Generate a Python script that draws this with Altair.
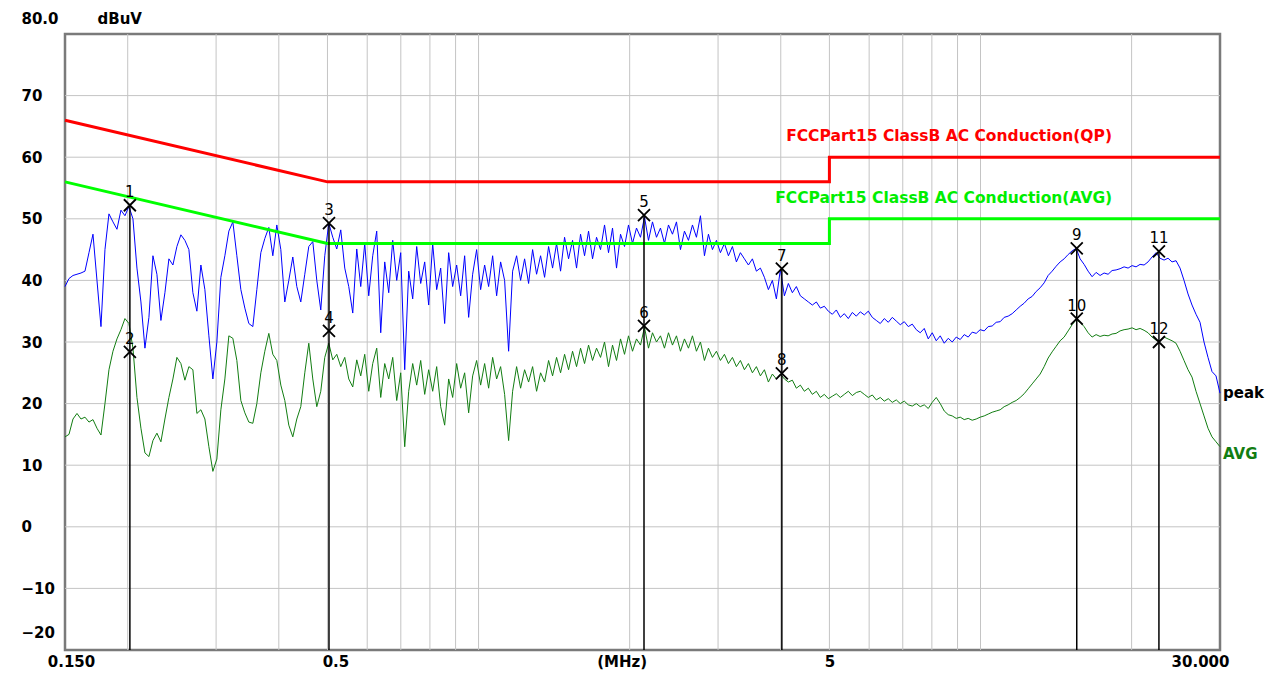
import altair as alt
import numpy as np
import pandas as pd

F_MIN, F_MAX = 0.15, 30.0
Y_MIN, Y_MAX = -20, 80

# ---- measured traces (dBuV), sampled on a log frequency sweep 0.15-30 MHz ----
peak_values = [
    39.0, 40.3, 40.8, 41.0, 41.2, 41.5, 44.5, 47.5, 40.0, 32.5,
    45.0, 50.8, 49.5, 48.3, 51.4, 50.5, 52.0, 50.0, 42.0, 36.5,
    29.0, 34.0, 44.0, 41.0, 33.5, 38.0, 43.5, 42.5, 45.5, 47.4,
    46.5, 45.0, 38.0, 35.0, 42.5, 38.5, 31.0, 24.0, 30.0, 40.5,
    44.0, 48.0, 49.5, 44.0, 38.5, 35.5, 33.0, 32.5, 38.5, 44.5,
    46.8, 48.6, 44.0, 49.0, 45.0, 36.5, 40.0, 43.8, 39.0, 36.5,
    41.0, 45.5, 46.3, 40.0, 35.2, 44.0, 49.3, 47.0, 45.1, 48.2,
    42.0, 39.0, 34.7, 45.1, 39.0, 46.0, 37.5, 44.0, 48.0, 31.5,
    43.0, 38.0, 46.5, 40.0, 44.5, 25.5, 41.5, 37.0, 45.5, 39.5,
    43.0, 36.0, 46.0, 38.5, 42.0, 33.0, 44.5, 39.0, 42.5, 37.5,
    44.0, 34.0, 41.0, 45.0, 38.5, 42.5, 39.0, 44.0, 37.5, 43.0,
    40.0, 28.5, 41.5, 44.0, 40.0, 43.5, 39.5, 45.0, 41.0, 44.0,
    40.5, 45.5, 42.0, 46.0, 41.5, 47.0, 43.5, 46.5, 42.0, 47.5,
    44.0, 48.0, 43.5, 47.0, 45.0, 49.0, 44.5, 48.5, 42.0, 47.5,
    45.5, 49.0, 46.0, 48.5, 47.0, 50.3, 46.5, 49.5, 47.0, 48.5,
    46.0, 49.0, 47.5, 49.5, 45.0, 48.0, 46.5, 49.0, 47.0, 50.5,
    44.0, 47.5, 45.0, 46.5, 44.5, 46.0, 44.0, 45.5, 43.0, 44.5,
    43.5, 42.5, 43.5, 41.5, 42.0, 40.5, 38.5, 40.0, 37.0, 41.8,
    37.5, 39.5, 38.0, 39.0, 37.5, 37.0, 36.5, 36.0, 36.5, 35.5,
    35.8, 35.0, 34.5, 35.2, 34.0, 34.6, 33.8, 34.8, 34.2, 34.9,
    34.4, 35.0, 34.0, 33.5, 33.0, 33.8, 33.2, 34.0, 33.4, 32.8,
    33.3, 32.5, 32.9, 32.0, 31.5, 32.2, 30.5, 31.5, 30.2, 31.0,
    29.8, 30.6, 30.0, 30.8, 30.4, 31.2, 30.8, 31.6, 31.4, 32.0,
    31.8, 32.5, 32.6, 33.2, 33.3, 34.0, 34.2, 34.6, 35.2, 35.8,
    36.3, 37.0, 37.4, 38.2, 38.8, 39.6, 40.8, 41.5, 42.3, 43.0,
    43.5, 44.2, 44.8, 45.2, 43.5, 42.6, 41.5, 40.6, 41.3, 40.8,
    41.2, 41.0, 41.6, 41.7, 41.9, 42.2, 42.0, 42.4, 42.2, 42.6,
    42.5, 43.0, 43.8, 44.5, 43.6, 43.3, 43.6, 43.0, 43.2, 42.0,
    40.0, 37.8, 36.0, 34.5, 33.2, 30.0, 27.5, 25.2, 24.5, 21.7,
]

avg_values = [
    14.6, 15.0, 17.5, 18.4, 17.5, 17.8, 17.0, 17.4, 16.0, 14.9,
    20.0, 25.5, 28.5, 30.5, 32.0, 33.8, 33.0, 29.0, 21.0, 16.0,
    12.0, 11.4, 14.0, 15.2, 13.8, 17.5, 21.0, 24.0, 27.5, 26.5,
    23.8, 26.0, 25.5, 18.4, 19.0, 17.5, 13.0, 9.0, 11.0, 19.0,
    24.0, 31.0, 30.6, 27.0, 20.5, 18.5, 17.0, 16.8, 20.0, 25.0,
    28.5, 31.4, 28.0, 27.0, 23.0, 20.5, 16.5, 14.6, 17.5, 19.5,
    25.0, 29.8, 24.0, 19.5, 22.0, 27.5, 29.8, 27.1, 28.0, 26.0,
    27.5, 24.0, 22.7, 27.1, 24.5, 28.0, 22.0, 26.5, 29.0, 21.0,
    26.5, 24.0, 27.5, 20.5, 25.0, 13.0, 22.0, 26.5, 23.0, 27.0,
    21.5, 25.5, 22.0, 26.0, 19.5, 16.5, 24.0, 21.0, 26.5, 22.5,
    25.0, 18.5, 24.5, 27.0, 23.0, 26.5, 22.5, 27.5, 24.0, 26.0,
    21.5, 14.0, 22.0, 26.0, 22.5, 25.5, 23.5, 26.0, 22.0, 25.0,
    23.5, 27.0, 24.5, 27.5, 25.0, 28.0, 25.5, 28.5, 26.0, 29.0,
    26.5, 29.5, 27.0, 29.0, 27.5, 30.0, 26.0, 29.5, 27.0, 30.5,
    28.0, 31.0, 28.5, 30.5, 29.5, 32.4, 29.0, 31.5, 30.0, 31.0,
    29.0, 31.5, 29.5, 31.0, 28.5, 30.5, 29.0, 31.0, 28.5, 30.0,
    27.0, 29.0, 27.5, 28.5, 27.0, 28.0, 26.5, 27.5, 26.0, 27.0,
    25.5, 26.5, 25.0, 26.0, 24.5, 25.5, 23.5, 24.8, 24.0, 24.8,
    24.0, 23.5, 23.8, 22.5, 23.0, 22.0, 22.5, 21.5, 22.0, 21.0,
    21.5, 20.8, 21.2, 21.6, 21.0, 21.5, 22.0, 21.3, 21.8, 22.0,
    21.5, 21.0, 21.4, 20.6, 21.0, 20.4, 20.8, 20.2, 20.6, 20.0,
    20.4, 19.8, 19.6, 20.0, 19.5, 19.8, 19.2, 20.2, 21.0, 20.0,
    18.8, 18.2, 18.0, 17.6, 17.8, 17.4, 17.6, 17.3, 17.5, 17.8,
    18.0, 18.3, 18.6, 18.8, 19.0, 19.5, 19.8, 20.2, 20.5, 21.0,
    21.6, 22.4, 23.2, 24.0, 24.8, 26.0, 27.4, 28.4, 29.3, 30.2,
    30.8, 31.8, 32.8, 33.6, 33.2, 32.5, 31.5, 30.8, 31.2, 30.9,
    31.1, 31.0, 31.3, 31.4, 31.8, 32.0, 32.1, 32.3, 32.0, 32.2,
    31.9, 31.5, 30.8, 30.3, 30.2, 30.8, 30.5, 30.2, 29.8, 28.5,
    27.0, 25.5, 24.3, 22.0, 20.0, 18.0, 16.0, 14.6, 13.8, 13.0,
]

# ---- limit lines (FCC Part 15 Class B conducted) ----
limit_freqs = [0.15, 0.5, 5.0, 5.0, 30.0]
qp_limit = [66, 56, 56, 60, 60]
avg_limit = [56, 46, 46, 50, 50]
qp_label = "FCCPart15 ClassB AC Conduction(QP)"
avg_label = "FCCPart15 ClassB AC Conduction(AVG)"
label_freqs = [4.10, 3.90]
label_levels = [63.4, 53.4]

# ---- markers ----
marker_ids = ["1", "2", "3", "4", "5", "6", "7", "8", "9", "10", "11", "12"]
marker_freqs = [0.202, 0.202, 0.5035, 0.5035, 2.136, 2.136, 4.02, 4.02, 15.55, 15.55, 22.67, 22.67]
marker_levels = [52.2, 28.4, 49.3, 31.8, 50.6, 32.6, 41.9, 24.9, 45.2, 33.8, 44.7, 30.0]

# ---- axes / grid ----
grid_freqs = [0.2, 0.3, 0.4, 0.5, 0.6, 0.7, 0.8, 0.9, 1, 2, 3, 4, 5, 6, 7, 8, 9, 10, 20]
grid_levels = [-10, 0, 10, 20, 30, 40, 50, 60, 70]
x_tick_values = [0.15, 0.5, 2, 5, 30]
x_tick_labels = ["0.150", "0.5", "(MHz)", "5", "30.000"]
y_tick_values = [-20, -10, 0, 10, 20, 30, 40, 50, 60, 70, 80]
y_unit = "dBuV"

# ---------------------------------------------------------------
peak_df = pd.DataFrame({"f": np.geomspace(F_MIN, F_MAX, len(peak_values)), "v": peak_values})
avg_df = pd.DataFrame({"f": np.geomspace(F_MIN, F_MAX, len(avg_values)), "v": avg_values})
qp_df = pd.DataFrame({"f": limit_freqs, "v": qp_limit, "o": range(len(limit_freqs))})
al_df = pd.DataFrame({"f": limit_freqs, "v": avg_limit, "o": range(len(limit_freqs))})
mk_df = pd.DataFrame({"f": marker_freqs, "v": marker_levels, "t": marker_ids})
rule_df = (mk_df.groupby("f", as_index=False)["v"].max().rename(columns={"v": "v2"}))
rule_df["v"] = Y_MIN
gx_df = pd.DataFrame({"f": grid_freqs})
gy_df = pd.DataFrame({"v": grid_levels})
lim_lab_df = pd.DataFrame({"f": label_freqs, "v": label_levels, "t": [qp_label, avg_label]})

FONT = "DejaVu Sans"

x_label_expr = " : ".join(
    f"datum.value == {v} ? '{t}'" for v, t in zip(x_tick_values, x_tick_labels)
) + " : datum.label"

xscale = alt.Scale(type="log", domain=[F_MIN, F_MAX], nice=False)
yscale = alt.Scale(domain=[Y_MIN, Y_MAX], nice=False, zero=False)

xaxis = alt.Axis(
    values=x_tick_values, labelExpr=x_label_expr, grid=False, ticks=False, tickSize=0,
    domain=False, labelPadding=4, labelFont=FONT, labelFontWeight="bold", labelFontSize=15,
    labelColor="black", labelFlush=False, labelOverlap=False, title=None,
    labelOffset={"expr": "datum.value == 0.15 ? 6 : datum.value == 0.5 ? 8 : datum.value == 2 ? -8 : datum.value == 30 ? -20 : 0"},
)
yaxis = alt.Axis(
    values=y_tick_values, labelExpr="datum.value == 80 ? '80.0' : datum.label",
    grid=False, ticks=False, tickSize=0, domain=False, labelPadding=44, labelAlign="left",
    labelFont=FONT, labelFontWeight="bold", labelFontSize=15, labelColor="black",
    labelFlush=False, labelOverlap=False,
    labelOffset={"expr": "datum.value == 80 ? -16 : datum.value == -20 ? -18 : 0"},
    title=y_unit, titleAngle=0, titleAlign="left", titleBaseline="middle", titleX=32, titleY=-16,
    titleFont=FONT, titleFontWeight="bold", titleFontSize=15, titleColor="black",
)


def X(field="f"):
    return alt.X(field, type="quantitative", scale=xscale, axis=xaxis)


def Y(field="v"):
    return alt.Y(field, type="quantitative", scale=yscale, axis=yaxis)


grid_v = alt.Chart(gx_df).mark_rule(color="#c4c4c4", strokeWidth=1).encode(x=X())
grid_h = alt.Chart(gy_df).mark_rule(color="#c4c4c4", strokeWidth=1).encode(y=Y())

peak_line = alt.Chart(peak_df).mark_line(color="#0000ff", strokeWidth=1).encode(x=X(), y=Y())
avg_line = alt.Chart(avg_df).mark_line(color="#127d12", strokeWidth=1).encode(x=X(), y=Y())

qp_line = alt.Chart(qp_df).mark_line(color="#ff0000", strokeWidth=3).encode(x=X(), y=Y(), order="o:Q")
al_line = alt.Chart(al_df).mark_line(color="#00ff00", strokeWidth=3).encode(x=X(), y=Y(), order="o:Q")

mk_rules = alt.Chart(rule_df).mark_rule(color="black", strokeWidth=1.5).encode(
    x=X(), y=Y(), y2=alt.Y2("v2")
)
mk_x = alt.Chart(mk_df).mark_point(
    shape="M -1 -1 L 1 1 M -1 1 L 1 -1", size=144, filled=False, color="black", strokeWidth=1.8, opacity=1
).encode(x=X(), y=Y())
mk_txt = alt.Chart(mk_df).mark_text(
    font=FONT, fontSize=15, color="black", baseline="alphabetic", align="center", dy=-8
).encode(x=X(), y=Y(), text="t:N")

lim_txt = alt.Chart(lim_lab_df).mark_text(
    font=FONT, fontSize=15.5, fontWeight="bold", align="left", baseline="middle"
).encode(
    x=X(), y=Y(), text="t:N",
    color=alt.Color("t:N", scale=alt.Scale(domain=[qp_label, avg_label], range=["#ff0000", "#00ee00"]), legend=None),
)

end_peak = alt.Chart(peak_df.tail(1).assign(t="peak")).mark_text(
    font=FONT, fontSize=15, fontWeight="bold", align="left", baseline="middle", dx=3, color="black"
).encode(x=X(), y=Y(), text="t:N")
end_avg = alt.Chart(avg_df.tail(1).assign(t="AVG")).mark_text(
    font=FONT, fontSize=15, fontWeight="bold", align="left", baseline="middle", dx=3, dy=7, color="#127d12"
).encode(x=X(), y=Y(), text="t:N")

chart = alt.layer(
    grid_v, grid_h, peak_line, avg_line, qp_line, al_line, mk_rules, mk_x, mk_txt, lim_txt, end_peak, end_avg
).properties(
    width=1155, height=616,
    padding={"left": 57, "top": 26, "right": 60, "bottom": 25},
    autosize=alt.AutoSizeParams(type="none"),
    background="white",
).configure_view(stroke="#7a7a7a", strokeWidth=2.5)

chart.save("out.html", embed_options={"renderer": "svg", "actions": False})
